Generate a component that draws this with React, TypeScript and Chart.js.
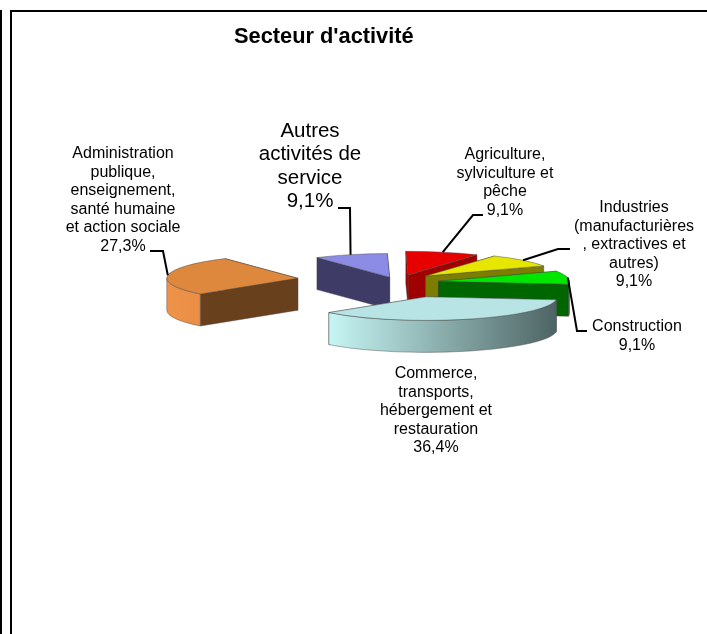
import React, { useEffect, useRef } from "react";
import { Chart, registerables } from "chart.js";

Chart.register(...registerables);

// ---- data ----
const categories = [
  "Agriculture, sylviculture et pêche",
  "Industries (manufacturières, extractives et autres)",
  "Construction",
  "Commerce, transports, hébergement et restauration",
  "Administration publique, enseignement, santé humaine et action sociale",
  "Autres activités de service",
];
const values = [9.1, 9.1, 9.1, 36.4, 27.3, 9.1];
const valueLabels = ["9,1%", "9,1%", "9,1%", "36,4%", "27,3%", "9,1%"];
const labelLines = [
  ["Agriculture,", "sylviculture et", "pêche"],
  ["Industries", "(manufacturières", ", extractives et", "autres)"],
  ["Construction"],
  ["Commerce,", "transports,", "hébergement et", "restauration"],
  ["Administration", "publique,", "enseignement,", "santé humaine", "et action sociale"],
  ["Autres", "activités de", "service"],
];
const chartTitle = "Secteur d'activité";

// ---- styling ----
const topColors = ["#e60000", "#e6e600", "#00e600", "#b8e4e5", "#dd883d", "#8c8ce6"];
const wallColors = ["#a00000", "#7d7d00", "#006600", "#8aacac", "#69401c", "#3e3b66"];
const sideStops = [
  ["#a00000", "#a00000"],
  ["#7d7d00", "#7d7d00"],
  ["#006600", "#006600"],
  ["#c6f6f4", "#4e6464"],
  ["#f09349", "#ea8e45"],
  ["#3e3b66", "#3e3b66"],
];
const explode = [38, 37, 41, 95, 101, 28];
const sink = [1, 0, 2, 0, 0, 1.5];
const drawOrder = [5, 0, 1, 2, 4, 3];
const tilt = 0.18;
const depth = 32;
const fontFamily = '"Liberation Sans", Arial, sans-serif';
const labelFont = [16, 16, 16, 16, 16, 20.5];
const labelCenterX = [505, 634, 637, 436, 123, 310];
const labelFirstY = [155, 208, 327, 374, 153.5, 131];
const labelStep = [18.4, 18.5, 18.5, 18.5, 18.6, 23.6];
const leaderFrom: (number[] | null)[] = [
  [483, 215, 473, 215],
  [570, 249, 558, 249],
  [587, 331, 577, 331],
  null,
  [150, 251, 163, 251],
  [338, 208, 350, 208],
];

const pie3d = {
  id: "pie3d",
  beforeDraw(chart: any) {
    const ctx = chart.ctx;
    ctx.save();
    ctx.fillStyle = "#000";
    ctx.fillRect(0, 10, 2, 624);
    ctx.fillRect(10, 10, 2, 624);
    ctx.fillRect(10, 10, 697, 2);
    ctx.restore();
  },
  beforeDatasetsDraw(chart: any) {
    const ctx = chart.ctx;
    const arcs = chart.getDatasetMeta(0).data;
    const geo = (i: number) => {
      const a = arcs[i];
      const mid = (a.startAngle + a.endAngle) / 2;
      const ox = a.x + explode[i] * Math.cos(mid);
      const oy = a.y + tilt * explode[i] * Math.sin(mid) + sink[i];
      return { a, mid, ox, oy, R: a.outerRadius };
    };
    const pt = (g: any, ang: number, r: number, dz = 0) => [
      g.ox + r * Math.cos(ang),
      g.oy + tilt * r * Math.sin(ang) + dz,
    ];
    const edge = "rgba(70,70,70,0.75)";

    drawOrder.forEach((i) => {
      const g = geo(i);
      const { a, R, ox, oy } = g;
      const apex = pt(g, 0, 0);
      // radial walls, furthest first
      const corners = [a.startAngle, a.endAngle]
        .map((ang: number) => pt(g, ang, R))
        .sort((p: number[], q: number[]) => p[1] - q[1]);
      corners.forEach((c: number[]) => {
        ctx.beginPath();
        ctx.moveTo(apex[0], apex[1]);
        ctx.lineTo(c[0], c[1]);
        ctx.lineTo(c[0], c[1] + depth);
        ctx.lineTo(apex[0], apex[1] + depth);
        ctx.closePath();
        ctx.fillStyle = wallColors[i];
        ctx.fill();
        ctx.strokeStyle = edge;
        ctx.lineWidth = 0.6;
        ctx.stroke();
      });
      // curved outer side: the part of the rim facing the viewer
      const a0 = Math.max(a.startAngle, 0);
      const a1 = Math.min(a.endAngle, Math.PI);
      if (a1 > a0) {
        const xs = [pt(g, a0, R)[0], pt(g, a1, R)[0]];
        const grad = ctx.createLinearGradient(Math.min(...xs), 0, Math.max(...xs), 0);
        grad.addColorStop(0, sideStops[i][0]);
        grad.addColorStop(1, sideStops[i][1]);
        ctx.beginPath();
        ctx.ellipse(ox, oy, R, R * tilt, 0, a0, a1);
        ctx.ellipse(ox, oy + depth, R, R * tilt, 0, a1, a0, true);
        ctx.closePath();
        ctx.fillStyle = grad;
        ctx.fill();
        ctx.strokeStyle = edge;
        ctx.lineWidth = 0.6;
        ctx.stroke();
      }
      // top face: the library's own arc element, flattened and moved out
      ctx.save();
      ctx.translate(0, sink[i]);
      ctx.translate(a.x, a.y);
      ctx.scale(1, tilt);
      ctx.translate(-a.x, -a.y);
      ctx.translate(explode[i] * Math.cos(g.mid), explode[i] * Math.sin(g.mid));
      a.draw(ctx);
      ctx.restore();
      ctx.beginPath();
      ctx.moveTo(apex[0], apex[1]);
      ctx.ellipse(ox, oy, R, R * tilt, 0, a.startAngle, a.endAngle);
      ctx.closePath();
      ctx.strokeStyle = edge;
      ctx.lineWidth = 0.6;
      ctx.stroke();
    });

    // leader lines, ending on the rim at each slice's middle angle
    categories.forEach((_, i) => {
      const from = leaderFrom[i];
      if (!from) return;
      const g = geo(i);
      const end = pt(g, g.mid, g.R);
      ctx.beginPath();
      ctx.moveTo(from[0], from[1]);
      ctx.lineTo(from[2], from[3]);
      ctx.lineTo(end[0], end[1]);
      ctx.strokeStyle = "#000";
      ctx.lineWidth = 2;
      ctx.stroke();
    });

    // title and labels
    ctx.save();
    ctx.fillStyle = "#000";
    ctx.textBaseline = "middle";
    ctx.textAlign = "left";
    ctx.font = `bold 21.8px ${fontFamily}`;
    ctx.fillText(chartTitle, 234, 37);
    ctx.textAlign = "center";
    categories.forEach((_, i) => {
      ctx.font = `${labelFont[i]}px ${fontFamily}`;
      [...labelLines[i], valueLabels[i]].forEach((line, n) => {
        ctx.fillText(line, labelCenterX[i], labelFirstY[i] + n * labelStep[i]);
      });
    });
    ctx.restore();
    return false;
  },
};

export default function App() {
  const ref = useRef<HTMLCanvasElement>(null);
  useEffect(() => {
    const chart = new Chart(ref.current as HTMLCanvasElement, {
      type: "pie",
      data: {
        labels: categories,
        datasets: [
          {
            data: values,
            backgroundColor: topColors,
            borderWidth: 0,
          },
        ],
      },
      options: {
        responsive: false,
        animation: false,
        rotation: -1,
        radius: 131,
        layout: { padding: { left: 89, right: 0, top: 0, bottom: 73 } },
        plugins: { legend: { display: false }, tooltip: { enabled: false }, title: { display: false } },
      },
      plugins: [pie3d],
    } as any);
    return () => chart.destroy();
  }, []);
  return (
    <div style={{ position: "absolute", left: 0, top: 0, width: 707, height: 634, overflow: "hidden", background: "#fff" }}>
      <canvas ref={ref} width={707} height={634} style={{ display: "block" }} />
    </div>
  );
}
